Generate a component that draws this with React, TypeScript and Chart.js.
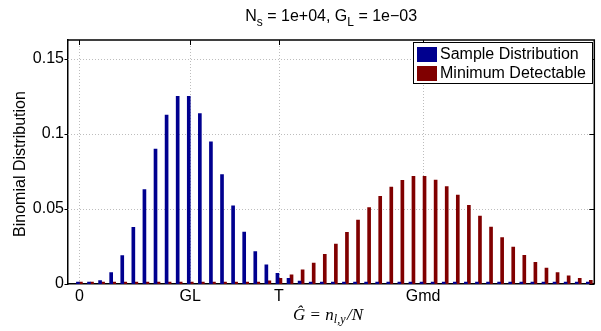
import React, { useEffect, useRef } from 'react';
import { Chart, registerables } from 'chart.js';

Chart.register(...registerables);

// Count values k (plotted position k, i.e. n/N scaled by N)
const counts = [
  0, 1, 2, 3, 4, 5, 6, 7, 8, 9,
  10, 11, 12, 13, 14, 15, 16, 17, 18, 19,
  20, 21, 22, 23, 24, 25, 26, 27, 28, 29,
  30, 31, 32, 33, 34, 35, 36, 37, 38, 39,
  40, 41, 42, 43, 44, 45, 46,
];

// Probability of each count for the sample distribution (centred on GL)
const sampleDistribution = [
  0.0000454, 0.000454, 0.00227, 0.00757, 0.0189, 0.0378, 0.063, 0.09, 0.1126, 0.1251,
  0.1251, 0.1137, 0.0948, 0.0729, 0.0521, 0.0347, 0.0217, 0.0128, 0.00709, 0.00373,
  0.00187, 0.00089, 0.0004, 0.00018, 0.00007, 0.00003, 0.00001, 0, 0, 0,
  0, 0, 0, 0, 0, 0, 0, 0, 0, 0,
  0, 0, 0, 0, 0, 0, 0,
];

// Probability of each count for the minimum detectable distribution (centred on Gmd)
const minimumDetectable = [
  0, 0, 0, 0, 0, 0, 0, 0, 0, 0,
  0, 0, 0.00006, 0.00014, 0.0003, 0.00062, 0.0012, 0.00218, 0.00376, 0.00613,
  0.0095, 0.01403, 0.01977, 0.02665, 0.03442, 0.04268, 0.05089, 0.05843, 0.06469, 0.06915,
  0.07175, 0.07175, 0.06922, 0.06502, 0.05929, 0.05251, 0.04522, 0.03789, 0.03091, 0.02457,
  0.01904, 0.0144, 0.01063, 0.00766, 0.0054, 0.00372, 0.00251,
];

const xTickValues = [0, 10, 18, 31];
const xTickLabels = ['0', 'GL', 'T', 'Gmd'];
const yTickValues = [0, 0.05, 0.1, 0.15];

const seriesNames = ['Sample Distribution', 'Minimum Detectable'];
const seriesColors = ['#00008F', '#800000'];

const SANS = '"Liberation Sans", Arial, Helvetica, sans-serif';
const SERIF = '"Liberation Serif", "DejaVu Serif", serif';

// Dotted grid behind the bars, only at the labelled ticks
const dottedGrid = {
  id: 'dottedGrid',
  beforeDatasetsDraw(chart: any) {
    const { ctx, chartArea } = chart;
    const { left, right, top, bottom } = chartArea;
    const xs = chart.scales.x;
    const ys = chart.scales.y;
    ctx.save();
    ctx.strokeStyle = '#bdbdbd';
    ctx.lineWidth = 1;
    ctx.setLineDash([1, 2]);
    ctx.beginPath();
    xTickValues.forEach((v) => {
      const px = Math.round(xs.getPixelForValue(v)) + 0.5;
      ctx.moveTo(px, top);
      ctx.lineTo(px, bottom);
    });
    yTickValues.forEach((v) => {
      if (v === 0) return;
      const py = Math.round(ys.getPixelForValue(v)) + 0.5;
      ctx.moveTo(left, py);
      ctx.lineTo(right, py);
    });
    ctx.stroke();
    ctx.restore();
  },
};

const decorations = {
  id: 'decorations',
  afterDraw(chart: any) {
    const { ctx, chartArea } = chart;
    const { left, right, top, bottom } = chartArea;
    const xs = chart.scales.x;
    const ys = chart.scales.y;
    ctx.save();

    // box: top and right edges
    ctx.strokeStyle = '#000';
    ctx.lineWidth = 1.5;
    ctx.beginPath();
    ctx.moveTo(left - 0.75, top);
    ctx.lineTo(right, top);
    ctx.lineTo(right, bottom);
    ctx.stroke();

    // tick marks: outward on the left, inward on the top and right
    ctx.lineWidth = 1;
    ctx.beginPath();
    xTickValues.forEach((v) => {
      const px = Math.round(xs.getPixelForValue(v)) + 0.5;
      ctx.moveTo(px, top);
      ctx.lineTo(px, top + 5);
    });
    yTickValues.forEach((v) => {
      const py = Math.round(ys.getPixelForValue(v)) + 0.5;
      ctx.moveTo(right - 5, py);
      ctx.lineTo(right, py);
      ctx.moveTo(left - 3.5, py);
      ctx.lineTo(left, py);
    });
    ctx.stroke();

    // legend
    const lx = 413.5, ly = 42.5, lw = 179, lh = 41;
    ctx.fillStyle = '#fff';
    ctx.fillRect(lx, ly, lw, lh);
    ctx.strokeStyle = '#000';
    ctx.lineWidth = 1;
    ctx.strokeRect(lx, ly, lw, lh);
    ctx.font = `16px ${SANS}`;
    ctx.textBaseline = 'middle';
    ctx.textAlign = 'left';
    seriesNames.forEach((name, i) => {
      const ry = 47 + i * 19;
      ctx.fillStyle = seriesColors[i];
      ctx.fillRect(417, ry, 20, 15);
      ctx.fillStyle = '#000';
      ctx.fillText(name, 440, ry + 8);
    });

    // title with subscripts
    const cx = (left + right) / 2;
    const mainFont = `16px ${SANS}`;
    const subFont = `12px ${SANS}`;
    const parts: [string, boolean][] = [
      ['N', false], ['s', true], [' = 1e+04, G', false], ['L', true], [' = 1e\u221203', false],
    ];
    let total = 0;
    parts.forEach(([t, sub]) => {
      ctx.font = sub ? subFont : mainFont;
      total += ctx.measureText(t).width;
    });
    let x = cx - total / 2;
    ctx.textBaseline = 'alphabetic';
    ctx.fillStyle = '#000';
    parts.forEach(([t, sub]) => {
      ctx.font = sub ? subFont : mainFont;
      ctx.fillText(t, x, sub ? 25.5 : 21);
      x += ctx.measureText(t).width;
    });

    // y-axis title
    ctx.save();
    ctx.translate(21, (top + bottom) / 2 + 2);
    ctx.rotate(-Math.PI / 2);
    ctx.font = `16px ${SANS}`;
    ctx.textAlign = 'center';
    ctx.textBaseline = 'middle';
    ctx.fillText('Binomial Distribution', 0, 0);
    ctx.restore();

    // x-axis title: G-hat = n_{l,y} / N
    const it = `italic 17px ${SERIF}`;
    const up = `17px ${SERIF}`;
    const itSub = `italic 12px ${SERIF}`;
    const xParts: [string, string, number, number][] = [
      ['\u011C', it, 0, 1], [' = ', up, 0, 1], ['n', it, 0, 0], ['l,y', itSub, 3, 1.5], ['/N', it, 0, 0],
    ];
    let w = 0;
    xParts.forEach(([t, f, , gap]) => {
      ctx.font = f;
      w += ctx.measureText(t).width + gap;
    });
    let xx = 328 - w / 2;
    ctx.textAlign = 'left';
    ctx.textBaseline = 'alphabetic';
    xParts.forEach(([t, f, dy, gap]) => {
      ctx.font = f;
      ctx.fillText(t, xx, 320 + dy);
      xx += ctx.measureText(t).width + gap;
    });

    ctx.restore();
  },
};

export default function App() {
  const canvasRef = useRef<HTMLCanvasElement | null>(null);

  useEffect(() => {
    const canvas = canvasRef.current;
    if (!canvas) return;

    const makeData = (values: number[]) => counts.map((k, i) => ({ x: k, y: values[i] }));

    const chart = new Chart(canvas, {
      type: 'bar',
      data: {
        datasets: [
          {
            label: seriesNames[0],
            data: makeData(sampleDistribution),
            backgroundColor: seriesColors[0],
            barThickness: 3,
            minBarLength: 2,
          },
          {
            label: seriesNames[1],
            data: makeData(minimumDetectable),
            backgroundColor: seriesColors[1],
            barThickness: 3,
            minBarLength: 2,
          },
        ],
      },
      plugins: [dottedGrid, decorations],
      options: {
        responsive: false,
        animation: false,
        layout: { padding: { top: 40, right: 6.7, left: 0, bottom: 0 } },
        plugins: {
          legend: { display: false },
          title: { display: false },
          tooltip: { enabled: false },
        },
        scales: {
          x: {
            type: 'linear',
            offset: false,
            min: -1.03,
            max: 46.45,
            afterBuildTicks: (s: any) => {
              s.ticks = xTickValues.map((v) => ({ value: v }));
            },
            afterFit: (s: any) => {
              s.height = 47;
            },
            ticks: {
              autoSkip: false,
              maxRotation: 0,
              padding: 3,
              color: '#000',
              font: { family: SANS, size: 16 },
              callback: (v: any) => {
                const i = xTickValues.indexOf(Number(v));
                return i >= 0 ? xTickLabels[i] : '';
              },
            },
            grid: { display: false, offset: false, drawTicks: false },
            border: { display: true, color: '#000', width: 1.5 },
          },
          y: {
            type: 'linear',
            min: 0,
            max: 0.1627,
            afterBuildTicks: (s: any) => {
              s.ticks = yTickValues.map((v) => ({ value: v }));
            },
            afterFit: (s: any) => {
              s.width = 68;
            },
            ticks: {
              padding: 4,
              color: '#000',
              font: { family: SANS, size: 16 },
              callback: (v: any) => String(v),
            },
            grid: { display: false, drawTicks: false },
            border: { display: true, color: '#000', width: 1.5 },
          },
        },
      },
    } as any);

    return () => chart.destroy();
  }, []);

  return (
    <div style={{ position: 'fixed', left: 0, top: 0, width: 601, height: 331, background: '#fff' }}>
      <canvas ref={canvasRef} width={601} height={331} style={{ display: 'block' }} />
    </div>
  );
}
